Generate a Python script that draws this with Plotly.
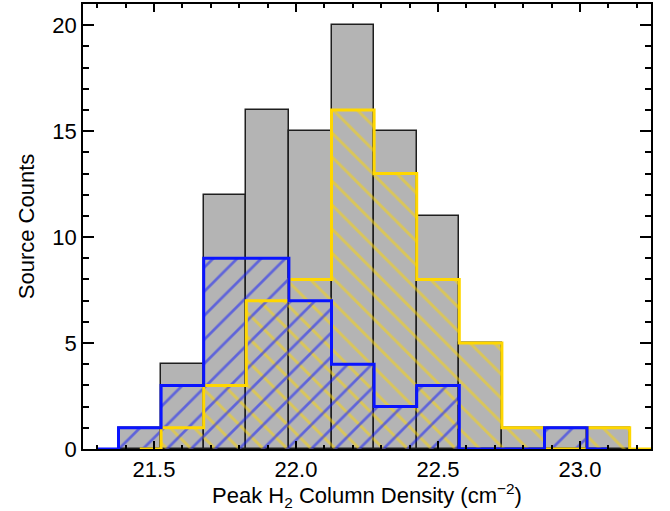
import plotly.graph_objects as go

# ---- data ----
bin_width = 0.15
bin_centers = [21.45, 21.60, 21.75, 21.90, 22.05, 22.20, 22.35, 22.50, 22.65, 22.80, 22.95, 23.10]
total_counts = [1, 4, 12, 16, 15, 20, 15, 11, 5, 1, 1, 1]
blue_counts = [1, 3, 9, 9, 7, 4, 2, 3, 0, 0, 1, 0]
yellow_counts = [0, 1, 3, 7, 8, 16, 13, 8, 5, 1, 0, 1]

x_ticks = [21.5, 22.0, 22.5, 23.0]
x_ticklabels = ["21.5", "22.0", "22.5", "23.0"]
y_ticks = [0, 5, 10, 15, 20]

GRAY = "rgb(180,180,180)"
BLUE = "rgb(10,20,255)"
GOLD = "rgb(255,215,0)"
FONT = "Liberation Sans, Arial, Helvetica, sans-serif"

# step outlines (IDL psym=10 style): blue starts one bin early, yellow ends one bin late
blue_step_x = [bin_centers[0] - bin_width] + bin_centers
blue_step_y = [0] + blue_counts
yellow_step_x = bin_centers + [bin_centers[-1] + bin_width]
yellow_step_y = yellow_counts + [0]

fig = go.Figure()

fig.add_trace(go.Bar(
    x=bin_centers, y=total_counts, width=bin_width,
    marker=dict(color=GRAY, line=dict(color="rgb(30,30,30)", width=1.5)),
    showlegend=False, hoverinfo="skip"))

fig.add_trace(go.Bar(
    x=bin_centers, y=yellow_counts, width=bin_width,
    marker=dict(color="rgba(0,0,0,0)", line=dict(width=0),
                pattern=dict(shape="\\", fgcolor=GOLD, bgcolor="rgba(0,0,0,0)",
                             size=17, solidity=0.17, fillmode="overlay")),
    showlegend=False, hoverinfo="skip"))

fig.add_trace(go.Bar(
    x=bin_centers, y=blue_counts, width=bin_width,
    marker=dict(color="rgba(0,0,0,0)", line=dict(width=0),
                pattern=dict(shape="/", fgcolor=BLUE, bgcolor="rgba(0,0,0,0)",
                             size=17, solidity=0.16, fillmode="overlay")),
    showlegend=False, hoverinfo="skip"))

fig.add_trace(go.Scatter(
    x=yellow_step_x, y=yellow_step_y, mode="lines",
    line=dict(shape="hvh", color=GOLD, width=3),
    showlegend=False, hoverinfo="skip", cliponaxis=False))

fig.add_trace(go.Scatter(
    x=blue_step_x, y=blue_step_y, mode="lines",
    line=dict(shape="hvh", color=BLUE, width=3),
    showlegend=False, hoverinfo="skip", cliponaxis=False))

fig.update_layout(
    width=670, height=511,
    margin=dict(l=83, r=19, t=4, b=62, autoexpand=False),
    paper_bgcolor="white", plot_bgcolor="white",
    barmode="overlay", bargap=0,
    font=dict(family=FONT, size=22, color="black"),
)

fig.update_xaxes(
    range=[21.25, 23.25], automargin=False,
    tickmode="array", tickvals=x_ticks, ticktext=x_ticklabels,
    ticks="inside", ticklen=8, tickwidth=1.5, tickcolor="black",
    minor=dict(dtick=0.1, tick0=21.0, ticks="inside", ticklen=4.5, tickwidth=1.5, tickcolor="black"),
    showline=True, linecolor="black", linewidth=1.5, mirror="allticks",
    showgrid=False, zeroline=False,
    tickfont=dict(size=22),
    title=dict(text="Peak H<sub>2</sub> Column Density (cm<sup>\u22122</sup>)", font=dict(size=22), standoff=4),
)

fig.update_yaxes(
    range=[0, 21], automargin=False,
    tickmode="array", tickvals=y_ticks,
    ticks="inside", ticklen=11, tickwidth=1.5, tickcolor="black",
    minor=dict(dtick=1, ticks="inside", ticklen=6, tickwidth=1.5, tickcolor="black"),
    showline=True, linecolor="black", linewidth=1.5, mirror="allticks",
    showgrid=False, zeroline=False,
    tickfont=dict(size=22),
    title=dict(text="Source Counts", font=dict(size=22), standoff=12),
)

fig.write_html(
    "out.html",
    config={"displayModeBar": False},
    post_script="document.body.style.margin='0';document.body.style.padding='0';",
)
